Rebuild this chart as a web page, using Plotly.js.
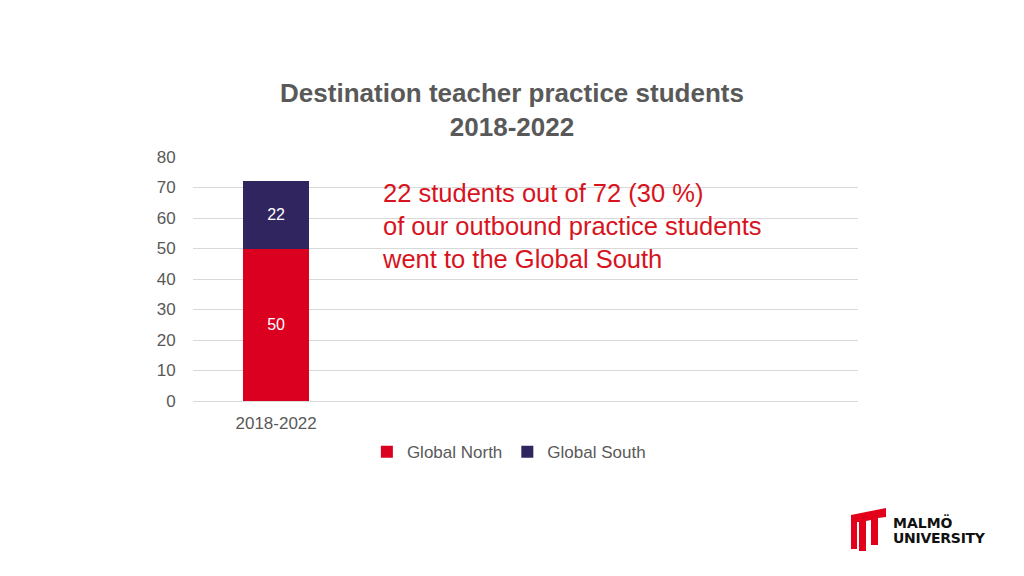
<!DOCTYPE html>
<html>
<head>
<meta charset="utf-8">
<script src="https://cdn.plot.ly/plotly-3.0.1.min.js"></script>
<style>
html,body{margin:0;padding:0;background:#fff;}
#chart{width:1024px;height:576px;position:relative;}
#logo{position:absolute;left:848px;top:505px;}
</style>
</head>
<body>
<div id="chart"></div>
<svg id="logo" width="150" height="50" viewBox="0 0 150 50">
  <path d="M3 10 L38 3 L38 12 L30 13 L30 40 L23 40 L23 15 L18 16 L18 46 L11 46 L11 17 L9 17 L9 44 L3 44 Z" fill="#e2001a"/>
  <text x="45" y="23" font-family="DejaVu Sans, sans-serif" font-weight="bold" font-size="14" fill="#111">MALMÖ</text>
  <text x="45" y="38" font-family="DejaVu Sans, sans-serif" font-weight="bold" font-size="14" fill="#111" textLength="92">UNIVERSITY</text>
</svg>
<script>
const categories = ['2018-2022'];
const globalNorth = [50];
const globalSouth = [22];
const seriesNames = ['Global North', 'Global South'];
const yTicks = [0, 10, 20, 30, 40, 50, 60, 70, 80];

const red = '#dc0020';
const navy = '#312560';
const grey = '#595959';

const traces = [
  {type:'bar', name:seriesNames[0], x:categories, y:globalNorth, marker:{color:red},
   text:globalNorth.map(String), textposition:'inside', insidetextanchor:'middle',
   textfont:{color:'#ffffff', size:16, family:'Liberation Sans, Arial, sans-serif'}, hoverinfo:'none'},
  {type:'bar', name:seriesNames[1], x:categories, y:globalSouth, marker:{color:navy},
   text:globalSouth.map(String), textposition:'inside', insidetextanchor:'middle',
   textfont:{color:'#ffffff', size:16, family:'Liberation Sans, Arial, sans-serif'}, hoverinfo:'none'}
];

const layout = {
  width:1024, height:576,
  margin:{l:193, r:166, t:157, b:175},
  paper_bgcolor:'#ffffff', plot_bgcolor:'#ffffff',
  barmode:'stack', bargap:0.6,
  font:{family:'Liberation Sans, Arial, sans-serif', color:grey, size:16},
  title:{text:'<b>Destination teacher practice students<br>2018-2022</b>',
    font:{size:26, color:grey, family:'Liberation Sans, Arial, sans-serif'},
    x:0.5, xref:'container', xanchor:'center', y:1-102/576, yref:'container', yanchor:'middle'},
  xaxis:{type:'category', range:[-0.5, 3.5], showgrid:false, zeroline:false,
    showline:true, linecolor:'#d9d9d9', linewidth:1, ticks:'outside', ticklen:7,
    tickcolor:'rgba(0,0,0,0)', tickfont:{size:17, color:grey}, fixedrange:true},
  yaxis:{range:[0,80], tickvals:yTicks, showgrid:true, gridcolor:'#d9d9d9', gridwidth:1,
    zeroline:false, showline:false, ticks:'outside', ticklen:13, tickcolor:'rgba(0,0,0,0)',
    tickfont:{size:17, color:grey}, fixedrange:true},
  legend:{orientation:'h', x:0.475, xanchor:'center', y:-0.21, yanchor:'middle',
    font:{size:17, color:grey}, itemwidth:30, traceorder:'normal'},
  annotations:[{xref:'paper', yref:'paper', x:(380-193)/665, y:(401-226)/244,
    xanchor:'left', yanchor:'middle', align:'left', showarrow:false,
    text:'22 students out of 72 (30 %)<br>of our outbound practice students<br>went to the Global South',
    font:{size:25.5, color:'#d7141e', family:'Liberation Sans, Arial, sans-serif'}}],
  showlegend:true
};

Plotly.newPlot('chart', traces, layout, {displayModeBar:false, staticPlot:true});
</script>
</body>
</html>
